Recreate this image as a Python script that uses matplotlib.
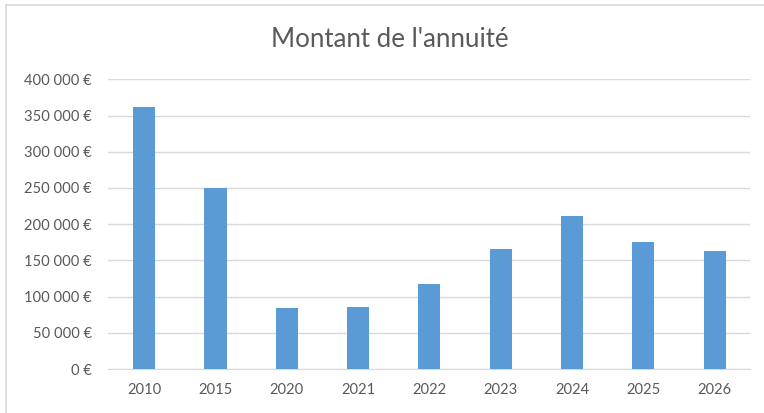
import matplotlib.pyplot as plt
from matplotlib.lines import Line2D
from matplotlib.ticker import FuncFormatter, MultipleLocator

plt.rcParams['font.family'] = ['Lato', 'DejaVu Sans']

years = ['2010', '2015', '2020', '2021', '2022', '2023', '2024', '2025', '2026']
annuite = [361400, 250500, 84100, 85900, 117700, 165500, 211800, 176000, 163200]

fig = plt.figure(figsize=(7.64, 4.13), dpi=100)
ax = fig.add_axes([0.142, 0.1065, 0.840, 0.7015])

x = range(len(years))
ax.bar(x, annuite, width=0.31, color='#5b9bd5', zorder=3)

ax.set_xlim(-0.5, len(years) - 0.5)
ax.set_ylim(0, 400000)
ax.yaxis.set_major_locator(MultipleLocator(50000))
ax.yaxis.set_major_formatter(FuncFormatter(
    lambda v, p: f"{v:,.0f}".replace(",", " ") + " €"))
ax.set_xticks(list(x))
ax.set_xticklabels(years)

ax.grid(axis='y', color='#d9d9d9', linewidth=1.0, zorder=0)
for s in ['top', 'right', 'left']:
    ax.spines[s].set_visible(False)
ax.spines['bottom'].set_color('#d9d9d9')
ax.tick_params(axis='both', length=0, labelsize=10.6, colors='#595959')
ax.tick_params(axis='x', pad=10)
ax.tick_params(axis='y', pad=12)

fig.text(0.510, 0.905, "Montant de l'annuité", ha='center', va='center',
         fontsize=18.6, color='#595959')

# chart border (only left and top visible in the original)
fig.add_artist(Line2D([0.008, 0.008], [0, 0.988], color='#d9d9d9', lw=1.2,
                      transform=fig.transFigure))
fig.add_artist(Line2D([0.008, 1.0], [0.988, 0.988], color='#d9d9d9', lw=1.2,
                      transform=fig.transFigure))

fig.savefig('out.png', dpi=100)
